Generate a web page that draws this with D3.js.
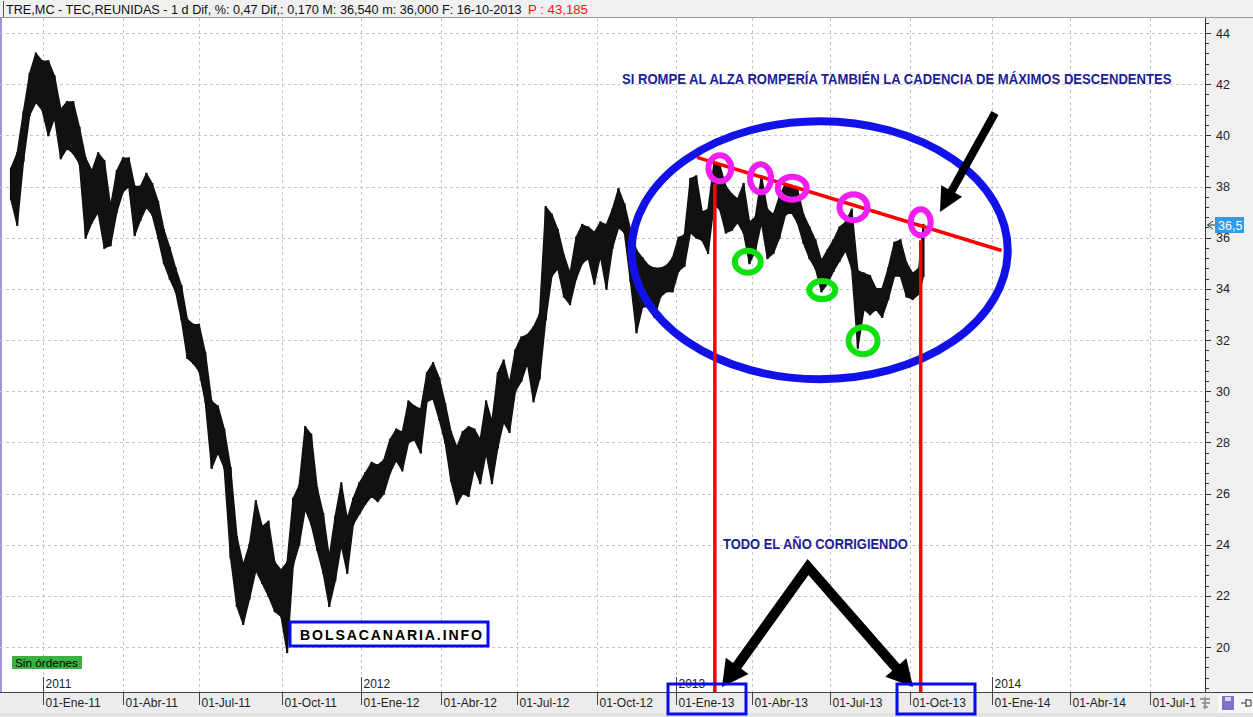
<!DOCTYPE html>
<html><head><meta charset="utf-8">
<script src="https://cdn.jsdelivr.net/npm/d3@7"></script>
<style>
html,body{margin:0;padding:0;background:#fff;overflow:hidden}
svg{display:block}
text{font-family:"Liberation Sans",Arial,sans-serif}
</style></head><body>
<svg id="c" width="1253" height="717"></svg>
<script>
// ---------- DATA (weekly high / low, TRE.MC) ----------
const weekDates = [
"2010-11-26","2010-12-03","2010-12-10","2010-12-17","2010-12-24","2010-12-31",
"2011-01-07","2011-01-14","2011-01-21","2011-01-28","2011-02-04","2011-02-11","2011-02-18","2011-02-25",
"2011-03-04","2011-03-11","2011-03-18","2011-03-25","2011-04-01","2011-04-08","2011-04-15","2011-04-22","2011-04-29",
"2011-05-06","2011-05-13","2011-05-20","2011-05-27","2011-06-03","2011-06-10","2011-06-17","2011-06-24",
"2011-07-01","2011-07-08","2011-07-15","2011-07-22","2011-07-29","2011-08-05","2011-08-12","2011-08-19","2011-08-26",
"2011-09-02","2011-09-09","2011-09-16","2011-09-23","2011-09-30","2011-10-07","2011-10-14","2011-10-21","2011-10-28",
"2011-11-04","2011-11-11","2011-11-18","2011-11-25","2011-12-02","2011-12-09","2011-12-16","2011-12-23","2011-12-30",
"2012-01-06","2012-01-13","2012-01-20","2012-01-27","2012-02-03","2012-02-10","2012-02-17","2012-02-24",
"2012-03-02","2012-03-09","2012-03-16","2012-03-23","2012-03-30","2012-04-06","2012-04-13","2012-04-20","2012-04-27",
"2012-05-04","2012-05-11","2012-05-18","2012-05-25","2012-06-01","2012-06-08","2012-06-15","2012-06-22","2012-06-29",
"2012-07-06","2012-07-13","2012-07-20","2012-07-27","2012-08-03","2012-08-10","2012-08-17","2012-08-24","2012-08-31",
"2012-09-07","2012-09-14","2012-09-21","2012-09-28","2012-10-05","2012-10-12","2012-10-19","2012-10-26",
"2012-11-02","2012-11-09","2012-11-16","2012-11-23","2012-11-30","2012-12-07","2012-12-14","2012-12-21","2012-12-28",
"2013-01-04","2013-01-11","2013-01-18","2013-01-25","2013-02-01","2013-02-08","2013-02-15","2013-02-22",
"2013-03-01","2013-03-08","2013-03-15","2013-03-22","2013-03-29","2013-04-05","2013-04-12","2013-04-19","2013-04-26",
"2013-05-03","2013-05-10","2013-05-17","2013-05-24","2013-05-31","2013-06-07","2013-06-14","2013-06-21","2013-06-28",
"2013-07-05","2013-07-12","2013-07-19","2013-07-26","2013-08-02","2013-08-09","2013-08-16","2013-08-23","2013-08-30",
"2013-09-06","2013-09-13","2013-09-20","2013-09-27","2013-10-04","2013-10-11","2013-10-16"];

const weekHigh = [
38.7,39.3,40.9,42.4,43.2,42.9,
42.9,42.3,41.0,41.3,41.3,40.3,39.1,38.6,
39.3,39.0,37.2,38.6,39.1,39.1,38.0,38.0,38.5,
38.1,37.4,36.3,35.6,34.8,34.1,32.8,32.6,
32.6,31.5,29.6,29.4,28.5,27.0,24.3,23.2,24.0,
25.7,24.7,24.9,23.3,23.0,23.3,25.8,26.3,28.6,
28.3,26.2,25.2,23.5,25.1,26.4,25.0,25.8,26.4,
26.8,27.2,27.1,27.3,28.1,28.5,28.4,29.6,
29.4,29.3,30.7,31.1,30.5,29.5,28.4,27.8,28.4,
28.6,28.5,28.1,29.6,28.8,30.7,31.2,30.3,31.6,
32.1,32.2,32.5,33.0,37.2,36.9,36.3,35.3,34.6,
36.0,36.5,36.4,36.2,36.6,36.5,37.1,37.9,
37.3,36.3,35.5,35.2,34.9,34.8,34.8,34.9,35.2,
36.0,36.1,38.3,38.4,37.0,37.1,38.9,38.8,
38.0,37.7,37.5,38.1,36.6,36.8,38.4,37.1,36.9,
37.6,38.1,38.0,37.9,36.9,36.4,35.9,35.1,35.5,
35.9,36.4,36.6,37.1,34.7,34.6,34.5,34.0,34.0,
34.8,35.8,35.9,35.0,34.6,34.8,36.5];

const weekLow = [
37.5,36.5,39.0,40.8,41.3,41.0,
40.0,40.7,39.1,39.5,39.3,38.9,36.0,36.6,
37.0,35.6,35.7,37.0,37.8,38.0,36.1,36.7,37.2,
36.9,36.0,35.0,34.4,33.9,32.8,31.3,31.1,
30.8,29.6,27.0,27.6,27.0,23.5,21.6,20.9,21.9,
23.0,22.5,22.0,21.4,21.2,19.8,23.2,24.0,25.4,
24.8,23.8,22.9,21.6,22.6,24.0,22.9,24.8,25.2,
25.6,25.9,25.7,26.0,26.8,27.3,26.9,28.0,
28.1,27.6,29.6,29.7,28.9,28.0,26.5,25.6,26.0,
25.9,27.0,26.4,27.6,26.4,27.8,28.8,28.4,30.0,
30.4,31.1,29.6,30.5,32.8,34.5,34.8,33.7,33.4,
34.4,35.0,35.2,34.2,35.3,34.0,35.6,36.4,
36.2,34.3,32.3,33.3,33.3,32.9,33.7,33.9,33.9,
34.7,34.9,36.2,36.0,35.9,35.4,37.3,37.1,
36.2,36.3,36.6,36.2,35.0,35.5,36.6,35.2,35.4,
36.0,36.9,37.0,36.6,35.8,35.2,34.8,33.9,34.2,
34.7,35.1,35.5,34.8,31.7,33.2,33.0,33.2,32.9,
33.6,34.5,34.5,33.7,33.6,33.8,34.5];

const yTickValues = [20,22,24,26,28,30,32,34,36,38,40,42,44];
const monthsEs = ["Ene","Feb","Mar","Abr","May","Jun","Jul","Ago","Sep","Oct","Nov","Dic"];
const quarterDates = ["2011-01-01","2011-04-01","2011-07-01","2011-10-01","2012-01-01","2012-04-01","2012-07-01","2012-10-01",
  "2013-01-01","2013-04-01","2013-07-01","2013-10-01","2014-01-01","2014-04-01","2014-07-01"];
const lastPrice = 36.5;
const headerText = "TRE,MC - TEC,REUNIDAS -  1 d Dif, %: 0,47 Dif,: 0,170 M: 36,540 m: 36,000 F: 16-10-2013";
const headerPrice = "P : 43,185";

// annotations (data coordinates)
const trendLine = [["2013-01-26",39.14],["2014-01-12",35.5]];
const highMarks = [["2013-02-22",38.71,11.5,13],["2013-04-11",38.32,10.5,14],["2013-05-18",37.93,14.5,11.5],["2013-07-28",37.19,14,13],["2013-10-13",36.6,10,13]];
const lowMarks  = [["2013-03-27",35.06,13,11],["2013-06-22",33.95,13,9],["2013-08-08",31.97,14.5,13.5]];
const yearSpan  = [["2013-02-16",38.1],["2013-10-13",35.9]];
const bigEllipse = ["2013-06-19",35.51];

// ---------- LAYOUT ----------
const W = 1253, H = 717;
const plotTop = 18, axisY = 692, axisX = 1205;
// pixel calibration of quarter ticks (trading-day spaced axis)
const quarterPx = [43,123,199,282,361,441,517,597,676,752,830,910,992,1070,1150];

const parse = d3.timeParse("%Y-%m-%d");
const x = d3.scaleTime().domain(quarterDates.map(parse)).range(quarterPx);
const y = d3.scaleLinear().domain([20,44]).range([647,33]);

const svg = d3.select("#c");

// fit a text to an exact width with a horizontal scale (keeps bbox honest)
function fitText(sel, tx, ty, w){
  sel.attr("x",0).attr("y",0);
  const n = sel.node().getComputedTextLength();
  sel.attr("transform",`translate(${tx},${ty}) scale(${w/n},1)`);
  return sel;
}

svg.append("rect").attr("width",W).attr("height",H).attr("fill","#fff");
svg.append("rect").attr("x",axisX).attr("y",plotTop).attr("width",W-axisX).attr("height",axisY-plotTop).attr("fill","#f0f0f0");
svg.append("rect").attr("x",0).attr("y",axisY).attr("width",W).attr("height",H-axisY).attr("fill","#ececec");
svg.append("rect").attr("x",0).attr("y",713).attr("width",W).attr("height",4).attr("fill","#e2e2e2");
svg.append("rect").attr("x",0).attr("y",0).attr("width",W).attr("height",plotTop).attr("fill","#f0f0f0");
svg.append("line").attr("x1",0).attr("x2",W).attr("y1",17.5).attr("y2",17.5).attr("stroke","#9a9a9a");
svg.append("rect").attr("x",0).attr("y",plotTop).attr("width",2).attr("height",axisY-plotTop).attr("fill","#a394d6");
svg.append("line").attr("x1",3.5).attr("x2",3.5).attr("y1",1).attr("y2",17).attr("stroke","#555");

// header text
fitText(svg.append("text").attr("font-size",12).attr("fill","#111").text(headerText), 6, 13.5, 516);
fitText(svg.append("text").attr("font-size",12).attr("fill","#ff1010").text(headerPrice), 528, 13.5, 60);

// grid
const grid = svg.append("g").attr("stroke","#c6c6c6").attr("stroke-dasharray","3,3").attr("stroke-width",1);
yTickValues.forEach(v=>{
  grid.append("line").attr("x1",0).attr("x2",axisX).attr("y1",Math.round(y(v))+0.5).attr("y2",Math.round(y(v))+0.5);
});
const qDates = quarterDates.map(parse);
qDates.forEach(d=>{
  const xx = Math.round(x(d))+0.5;
  grid.append("line").attr("x1",xx).attr("x2",xx).attr("y1",plotTop).attr("y2",axisY);
});

// right axis
const ax = svg.append("g");
ax.append("line").attr("x1",axisX+0.5).attr("x2",axisX+0.5).attr("y1",plotTop).attr("y2",axisY).attr("stroke","#333");
for (let k=46;k<=111;k++){
  const v = k*0.4, yy = Math.round(y(v))+0.5;
  const major = (k%5===0);
  ax.append("line").attr("x1",axisX).attr("x2",axisX+(major?6:4)).attr("y1",yy).attr("y2",yy).attr("stroke","#333");
}
yTickValues.forEach(v=>{
  ax.append("text").attr("x",1216).attr("y",y(v)+4.5).attr("font-size",12.5).attr("fill","#222").text(v);
});

// bottom axis
ax.append("line").attr("x1",0).attr("x2",W).attr("y1",axisY+0.5).attr("y2",axisY+0.5).attr("stroke","#444");
qDates.forEach(d=>{
  const xx = Math.round(x(d))+0.5;
  ax.append("line").attr("x1",xx).attr("x2",xx).attr("y1",axisY).attr("y2",705).attr("stroke","#444");
  const lbl = "01-"+monthsEs[d.getMonth()]+"-"+String(d.getFullYear()).slice(2);
  ax.append("text").attr("x",xx+2).attr("y",707).attr("font-size",12).attr("fill","#222").text(lbl);
  if (d.getMonth()===0){
    ax.append("line").attr("x1",xx).attr("x2",xx).attr("y1",677).attr("y2",axisY).attr("stroke","#444");
    ax.append("text").attr("x",xx+2).attr("y",688).attr("font-size",12).attr("fill","#222").text(d.getFullYear());
  }
});

// ---------- PRICE ----------
const pts = weekDates.map((d,i)=>({d:parse(d),h:weekHigh[i],l:weekLow[i]}));
const price = svg.append("g");
price.append("path")
  .attr("d", d3.area().x(p=>x(p.d)).y0(p=>y(p.l)).y1(p=>y(p.h))(pts))
  .attr("fill","#111").attr("stroke","#111").attr("stroke-width",1.5).attr("stroke-linejoin","round");
price.selectAll("line").data(pts).join("line")
  .attr("x1",p=>x(p.d)).attr("x2",p=>x(p.d))
  .attr("y1",p=>y(p.h)-1).attr("y2",p=>y(p.l)+1)
  .attr("stroke","#111").attr("stroke-width",2.2);

// ---------- ANNOTATIONS ----------
const an = svg.append("g");
an.append("ellipse").attr("cx",x(parse(bigEllipse[0]))).attr("cy",y(bigEllipse[1]))
  .attr("rx",188).attr("ry",129).attr("fill","none").attr("stroke","#1111e8").attr("stroke-width",8);
an.append("line")
  .attr("x1",x(parse(trendLine[0][0]))).attr("y1",y(trendLine[0][1]))
  .attr("x2",x(parse(trendLine[1][0]))).attr("y2",y(trendLine[1][1]))
  .attr("stroke","#ff0000").attr("stroke-width",3.5);
yearSpan.forEach(s=>{
  const xx = x(parse(s[0]));
  an.append("line").attr("x1",xx).attr("x2",xx).attr("y1",y(s[1])).attr("y2",axisY)
    .attr("stroke","#ff0000").attr("stroke-width",3.5);
});
highMarks.forEach(m=>{
  an.append("ellipse").attr("cx",x(parse(m[0]))).attr("cy",y(m[1])).attr("rx",m[2]).attr("ry",m[3])
    .attr("fill","none").attr("stroke","#f01ef0").attr("stroke-width",6);
});
lowMarks.forEach(m=>{
  an.append("ellipse").attr("cx",x(parse(m[0]))).attr("cy",y(m[1])).attr("rx",m[2]).attr("ry",m[3])
    .attr("fill","none").attr("stroke","#10e010").attr("stroke-width",6);
});

function arrowHead(g, x1,y1,x2,y2, len, wid){
  const dx=x2-x1, dy=y2-y1, L=Math.hypot(dx,dy), ux=dx/L, uy=dy/L, nx=-uy, ny=ux;
  const bx=x2-ux*len, by=y2-uy*len;
  g.append("path").attr("d",`M${x2},${y2}L${bx+nx*wid/2},${by+ny*wid/2}L${bx-nx*wid/2},${by-ny*wid/2}Z`).attr("fill","#000");
  return [bx+ux*2,by+uy*2];
}
{
  const b = arrowHead(an, 995,113, 940,212, 24, 24);
  an.append("line").attr("x1",995).attr("y1",113).attr("x2",b[0]).attr("y2",b[1]).attr("stroke","#000").attr("stroke-width",8);
}
{
  const apex=[808,567];
  const bl = arrowHead(an, apex[0],apex[1], 722,687, 26, 28);
  const br = arrowHead(an, apex[0],apex[1], 913,687, 26, 28);
  an.append("path").attr("d",`M${bl[0]},${bl[1]}L${apex[0]},${apex[1]}L${br[0]},${br[1]}`)
    .attr("fill","none").attr("stroke","#000").attr("stroke-width",10).attr("stroke-linejoin","miter");
}

fitText(an.append("text").attr("font-size",15).attr("font-weight","bold").attr("fill","#1d1d96")
  .text("SI ROMPE AL ALZA ROMPERÍA TAMBIÉN LA CADENCIA DE MÁXIMOS DESCENDENTES"), 622, 84, 550);
fitText(an.append("text").attr("font-size",15).attr("font-weight","bold").attr("fill","#1d1d96")
  .text("TODO EL AÑO CORRIGIENDO"), 723, 549, 185);

[[qDates[8],-8],[qDates[11],-13]].forEach(([d,off])=>{
  an.append("rect").attr("x",x(d)+off).attr("y",684).attr("width",78).attr("height",30)
    .attr("fill","none").attr("stroke","#0a0af0").attr("stroke-width",3);
});

an.append("rect").attr("x",290).attr("y",622).attr("width",198).attr("height",24)
  .attr("fill","#fff").attr("stroke","#0a0af0").attr("stroke-width",3);
fitText(an.append("text").attr("font-size",15).attr("font-weight","bold").attr("fill","#000")
  .attr("letter-spacing",2).text("BOLSACANARIA.INFO"), 300, 640, 184);

an.append("rect").attr("x",12).attr("y",656).attr("width",70).attr("height",13).attr("fill","#3cb043");
fitText(an.append("text").attr("font-size",11).attr("fill","#000").attr("font-family","DejaVu Sans Mono")
  .text("Sin órdenes"), 15, 666.5, 63);

an.append("path").attr("d","M1213,221L1207.5,225L1213,229M1207.5,225L1215,225").attr("stroke","#333").attr("fill","none");
an.append("rect").attr("x",1215).attr("y",217).attr("width",29).attr("height",16).attr("fill","#2f9be6");
an.append("text").attr("x",1218).attr("y",230).attr("font-size",12.5).attr("fill","#fff").text(String(lastPrice).replace(".",","));

const ic = svg.append("g");
ic.append("rect").attr("x",1196).attr("y",axisY+1).attr("width",57).attr("height",20).attr("fill","#ececec");
ic.append("rect").attr("x",1218).attr("y",694).attr("width",35).attr("height",19).attr("fill","#f7f7f7");
ic.append("path").attr("d","M1200,699h10M1202,703h8M1203,707h5M1205,697v12").attr("stroke","#9a9a9a").attr("stroke-width",2);
ic.append("rect").attr("x",1222).attr("y",696).attr("width",12).attr("height",14).attr("fill","#7c74cc");
ic.append("rect").attr("x",1225).attr("y",697).attr("width",6).attr("height",4).attr("fill","#d8d6f0");
ic.append("path").attr("d","M1241,703h5M1246,699v8M1246,700h5v6h-5").attr("stroke","#333").attr("fill","none");
</script>
</body></html>
